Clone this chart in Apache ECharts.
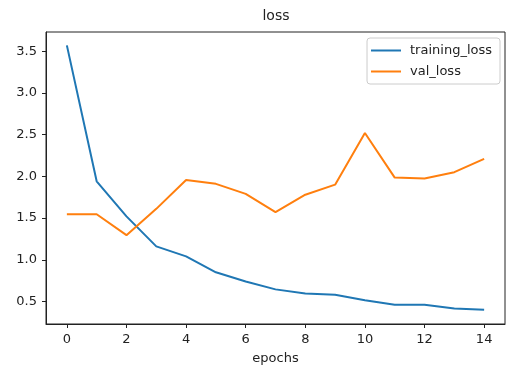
<!DOCTYPE html>
<html>
<head>
<meta charset="utf-8">
<script src="https://cdn.jsdelivr.net/npm/echarts@6/dist/echarts.min.js"></script>
<style>
  html, body { margin: 0; padding: 0; background: #fff; }
  #chart { width: 506px; height: 370px; }
</style>
</head>
<body>
<div id="chart"></div>
<script>
var epochs = [0, 1, 2, 3, 4, 5, 6, 7, 8, 9, 10, 11, 12, 13, 14];
var trainingLoss = [3.57, 1.94, 1.52, 1.16, 1.04, 0.85, 0.74, 0.645, 0.595, 0.58, 0.515, 0.46, 0.46, 0.415, 0.40];
var valLoss = [1.545, 1.545, 1.295, 1.61, 1.955, 1.91, 1.79, 1.57, 1.78, 1.90, 2.52, 1.985, 1.975, 2.05, 2.21];
var xTicks = [0, 2, 4, 6, 8, 10, 12, 14];
var yTicks = [0.5, 1.0, 1.5, 2.0, 2.5, 3.0, 3.5];

function pairs(ys) {
    return epochs.map(function(x, i) { return [x, ys[i]]; });
}

var chartDom = document.getElementById('chart');
var myChart = echarts.init(chartDom);
var font = 'DejaVu Sans';
var option = {
    animation: false,
    title: {
        text: 'loss',
        left: 276,
        top: 9,
        padding: 0,
        textAlign: 'center',
        textStyle: { fontFamily: font, fontSize: 14, fontWeight: 'normal', color: '#222' }
    },
    legend: {
        orient: 'vertical',
        right: 6,
        top: 38,
        padding: [6, 8, 6, 4],
        itemGap: 8,
        itemWidth: 30,
        itemHeight: 2,
        icon: 'rect',
        borderColor: '#cccccc',
        borderWidth: 1,
        borderRadius: 3,
        backgroundColor: 'rgba(255,255,255,0.8)',
        textStyle: { fontFamily: font, fontSize: 13, color: '#222', padding: [0, 0, 0, 4] },
        data: ['training_loss', 'val_loss']
    },
    grid: {
        left: 46,
        right: 1,
        top: 32,
        bottom: 42,
        show: true,
        borderColor: '#222',
        borderWidth: 1
    },
    xAxis: {
        type: 'value',
        min: -0.7,
        max: 14.7,
        name: 'epochs',
        nameLocation: 'middle',
        nameGap: 28,
        nameTextStyle: { fontFamily: font, fontSize: 13, color: '#222' },
        axisLine: { show: true, onZero: false, lineStyle: { color: '#222', width: 1 } },
        axisTick: { show: true, length: 4, customValues: xTicks, lineStyle: { color: '#222' } },
        axisLabel: {
            customValues: xTicks,
            margin: 9,
            fontFamily: font,
            fontSize: 13,
            color: '#222',
            formatter: function(v) { return String(Math.round(v)); }
        },
        splitLine: { show: false }
    },
    yAxis: {
        type: 'value',
        min: 0.23,
        max: 3.73,
        axisLine: { show: true, onZero: false, lineStyle: { color: '#222', width: 1 } },
        axisTick: { show: true, length: 4, customValues: yTicks, lineStyle: { color: '#222' } },
        axisLabel: {
            customValues: yTicks,
            margin: 9,
            fontFamily: font,
            fontSize: 13,
            color: '#222',
            formatter: function(v) { return v.toFixed(1); }
        },
        splitLine: { show: false }
    },
    series: [{
        name: 'training_loss',
        type: 'line',
        data: pairs(trainingLoss),
        showSymbol: false,
        symbol: 'none',
        itemStyle: { color: '#1f77b4' },
        lineStyle: { color: '#1f77b4', width: 2 }
    }, {
        name: 'val_loss',
        type: 'line',
        data: pairs(valLoss),
        showSymbol: false,
        symbol: 'none',
        itemStyle: { color: '#ff7f0e' },
        lineStyle: { color: '#ff7f0e', width: 2 }
    }]
};
myChart.setOption(option);
</script>
</body>
</html>
